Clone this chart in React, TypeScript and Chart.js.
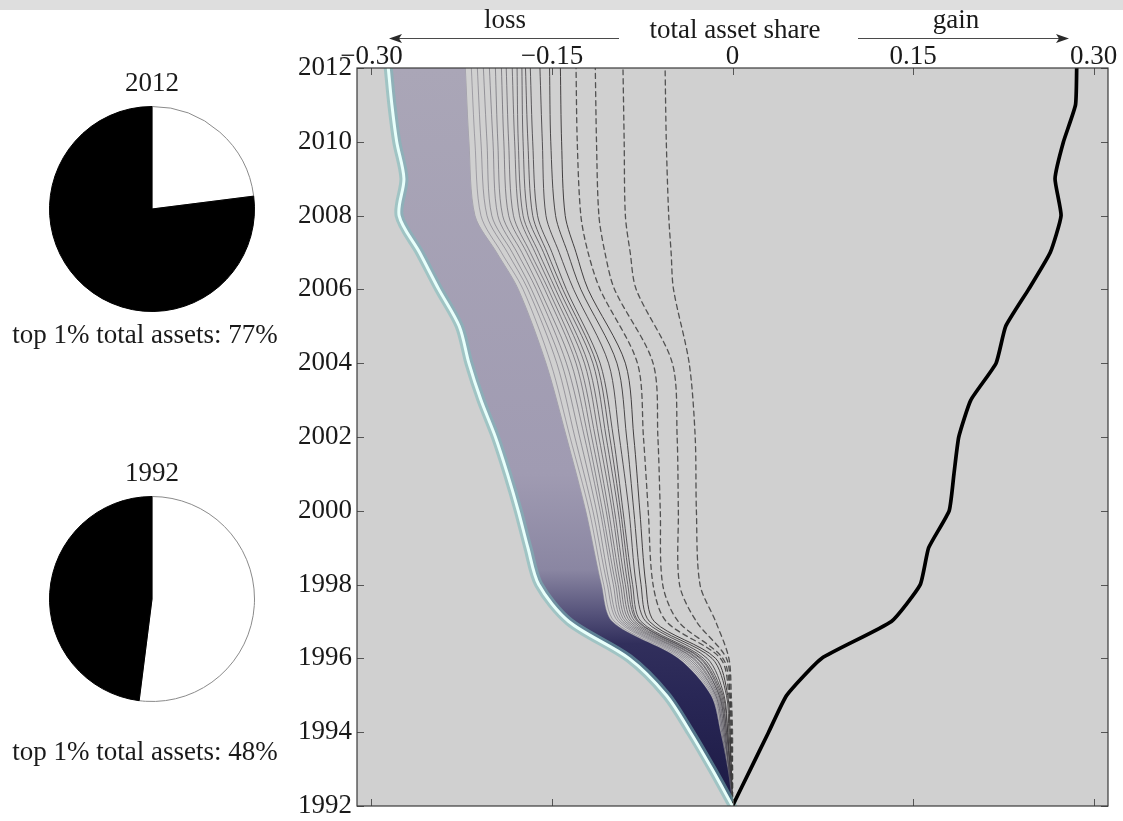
import React, { useEffect, useRef } from 'react';
import { Chart, registerables } from 'chart.js';

Chart.register(...registerables);

const FONT = '"Liberation Serif", "Times New Roman", serif';

// ---------- data ----------
const YEARS = [1992, 1993, 1994, 1995, 1996, 1997, 1998, 1999, 2000, 2001, 2002, 2003, 2004, 2005, 2006, 2007, 2008, 2009, 2010, 2011, 2012];
const GAIN = [0, 0.015, 0.030, 0.045, 0.074, 0.132, 0.156, 0.163, 0.180, 0.184, 0.188, 0.198, 0.219, 0.227, 0.246, 0.264, 0.273, 0.268, 0.275, 0.285, 0.286];
const LOSS_EDGE = [0, -0.017, -0.035, -0.055, -0.086, -0.136, -0.161, -0.170, -0.178, -0.187, -0.197, -0.209, -0.219, -0.227, -0.244, -0.260, -0.277, -0.273, -0.279, -0.283, -0.286];

const BUNDLE_YEARS = [1992, 1993, 1994, 1995, 1996, 1997, 1998, 2000, 2002, 2004, 2006, 2007, 2008, 2010, 2012];
const SOLID_1 = [0, -0.004, -0.010, -0.018, -0.045, -0.100, -0.109, -0.122, -0.138, -0.155, -0.178, -0.196, -0.214, -0.219, -0.222];
const SOLID_2 = [0, -0.004, -0.010, -0.017, -0.043, -0.098, -0.107, -0.119, -0.135, -0.151, -0.174, -0.192, -0.209, -0.214, -0.217];
const SOLID_3 = [0, -0.004, -0.009, -0.016, -0.041, -0.095, -0.104, -0.116, -0.131, -0.146, -0.170, -0.187, -0.204, -0.209, -0.212];
const SOLID_4 = [0, -0.004, -0.009, -0.015, -0.039, -0.093, -0.102, -0.113, -0.127, -0.142, -0.167, -0.183, -0.200, -0.204, -0.207];
const SOLID_5 = [0, -0.003, -0.008, -0.014, -0.037, -0.091, -0.099, -0.110, -0.123, -0.138, -0.163, -0.179, -0.195, -0.199, -0.202];
const SOLID_6 = [0, -0.003, -0.008, -0.014, -0.035, -0.089, -0.097, -0.108, -0.120, -0.134, -0.160, -0.175, -0.191, -0.195, -0.197];
const SOLID_7 = [0, -0.003, -0.007, -0.013, -0.033, -0.087, -0.095, -0.105, -0.117, -0.130, -0.156, -0.171, -0.186, -0.190, -0.192];
const SOLID_8 = [0, -0.003, -0.007, -0.012, -0.032, -0.085, -0.093, -0.103, -0.114, -0.127, -0.153, -0.168, -0.182, -0.186, -0.188];
const SOLID_9 = [0, -0.003, -0.006, -0.011, -0.030, -0.083, -0.091, -0.100, -0.111, -0.123, -0.150, -0.164, -0.177, -0.181, -0.183];
const SOLID_10 = [0, -0.003, -0.006, -0.011, -0.029, -0.081, -0.089, -0.098, -0.108, -0.120, -0.147, -0.161, -0.174, -0.178, -0.179];
const SOLID_11 = [0, -0.002, -0.005, -0.010, -0.027, -0.079, -0.087, -0.095, -0.105, -0.116, -0.144, -0.157, -0.170, -0.174, -0.175];
const SOLID_12 = [0, -0.002, -0.005, -0.009, -0.026, -0.078, -0.085, -0.093, -0.102, -0.113, -0.141, -0.154, -0.166, -0.170, -0.172];
const SOLID_13 = [0, -0.002, -0.004, -0.008, -0.024, -0.076, -0.083, -0.091, -0.099, -0.110, -0.138, -0.150, -0.162, -0.166, -0.168];
const SOLID_14 = [0, -0.002, -0.004, -0.007, -0.021, -0.072, -0.080, -0.086, -0.094, -0.103, -0.132, -0.144, -0.155, -0.158, -0.160];
const SOLID_15 = [0, -0.001, -0.003, -0.005, -0.017, -0.069, -0.076, -0.082, -0.088, -0.096, -0.126, -0.137, -0.147, -0.151, -0.152];
const SOLID_16 = [0, -0.001, -0.002, -0.004, -0.014, -0.065, -0.072, -0.077, -0.082, -0.089, -0.120, -0.130, -0.139, -0.142, -0.143];

const DASHED_1 = [0, -0.001, -0.002, -0.003, -0.010, -0.055, -0.066, -0.070, -0.074, -0.079, -0.110, -0.120, -0.126, -0.129, -0.130];
const DASHED_2 = [0, -0.001, -0.001, -0.002, -0.008, -0.045, -0.058, -0.060, -0.062, -0.066, -0.098, -0.106, -0.111, -0.113, -0.114];
const DASHED_3 = [0, 0, -0.001, -0.002, -0.005, -0.030, -0.044, -0.045, -0.046, -0.050, -0.080, -0.085, -0.089, -0.090, -0.091];
const DASHED_4 = [0, 0, 0, -0.001, -0.003, -0.014, -0.027, -0.030, -0.031, -0.036, -0.049, -0.051, -0.053, -0.055, -0.056];

const X_TICKS = [-0.3, -0.15, 0, 0.15, 0.3];
const X_TICK_LABELS = ['\u22120.30', '\u22120.15', '0', '0.15', '0.30'];
const Y_TICKS = [1992, 1994, 1996, 1998, 2000, 2002, 2004, 2006, 2008, 2010, 2012];

const PIE_LABELS = ['rest', 'top 1%'];
const PIE_2012 = [23, 77];
const PIE_1992 = [52, 48];

const SOLIDS = [SOLID_1, SOLID_2, SOLID_3, SOLID_4, SOLID_5, SOLID_6, SOLID_7, SOLID_8, SOLID_9, SOLID_10, SOLID_11, SOLID_12, SOLID_13, SOLID_14, SOLID_15, SOLID_16];
const DASHEDS = [DASHED_1, DASHED_2, DASHED_3, DASHED_4];

const pts = (xs: number[], ys: number[]) => xs.map((x, i) => ({ x, y: ys[i] }));

const decor = {
  id: 'decor',
  beforeDraw(chart: any) {
    const { ctx, chartArea: a } = chart;
    ctx.save();
    ctx.fillStyle = '#d0d0d0';
    ctx.fillRect(a.left, a.top, a.right - a.left, a.bottom - a.top);
    ctx.restore();
  },
  afterDraw(chart: any) {
    const { ctx, chartArea: a, scales } = chart;
    ctx.save();
    ctx.strokeStyle = '#555';
    ctx.lineWidth = 1;
    ctx.beginPath();
    X_TICKS.forEach((v) => {
      const px = Math.round(scales.x.getPixelForValue(v)) + 0.5;
      ctx.moveTo(px, a.top); ctx.lineTo(px, a.top + 7);
      ctx.moveTo(px, a.bottom); ctx.lineTo(px, a.bottom - 7);
    });
    Y_TICKS.forEach((v) => {
      const py = Math.round(scales.y.getPixelForValue(v)) + 0.5;
      ctx.moveTo(a.left, py); ctx.lineTo(a.left + 7, py);
      ctx.moveTo(a.right, py); ctx.lineTo(a.right - 7, py);
    });
    ctx.stroke();
    ctx.strokeStyle = '#3a3a3a';
    ctx.lineWidth = 1.2;
    ctx.strokeRect(a.left, a.top, a.right - a.left, a.bottom - a.top);

    ctx.fillStyle = '#1a1a1a';
    ctx.font = `27px ${FONT}`;
    ctx.textAlign = 'center';
    ctx.textBaseline = 'middle';
    ctx.fillText('loss', 505, 21);
    ctx.fillText('gain', 956, 21);
    ctx.fillText('total asset share', 735, 31);

    ctx.strokeStyle = '#4a4a4a';
    ctx.fillStyle = '#2a2a2a';
    ctx.lineWidth = 1.2;
    const ay = 38.5;
    ctx.beginPath();
    ctx.moveTo(619, ay); ctx.lineTo(398, ay);
    ctx.moveTo(858, ay); ctx.lineTo(1060, ay);
    ctx.stroke();
    ctx.beginPath();
    ctx.moveTo(389, ay); ctx.lineTo(402, ay - 4.5); ctx.lineTo(399, ay); ctx.lineTo(402, ay + 4.5); ctx.closePath();
    ctx.fill();
    ctx.beginPath();
    ctx.moveTo(1069, ay); ctx.lineTo(1056, ay - 4.5); ctx.lineTo(1059, ay); ctx.lineTo(1056, ay + 4.5); ctx.closePath();
    ctx.fill();
    ctx.restore();
  },
};

function MainChart() {
  const ref = useRef<HTMLCanvasElement>(null);
  useEffect(() => {
    const canvas = ref.current!;
    const fillGradient = (c: any) => {
      const chart = c.chart;
      const y = chart.scales && chart.scales.y;
      if (!chart.chartArea || !y) return 'rgba(150,145,170,1)';
      const g = chart.ctx.createLinearGradient(0, y.getPixelForValue(1992), 0, y.getPixelForValue(2012));
      g.addColorStop(0, '#1c1a44');
      g.addColorStop(0.15, '#292756');
      g.addColorStop(0.22, '#312f5c');
      g.addColorStop(0.26, '#55527a');
      g.addColorStop(0.32, '#8a86a2');
      g.addColorStop(0.45, '#a09bb2');
      g.addColorStop(1, '#aaa6b7');
      return g;
    };
    const n = SOLIDS.length;

    const datasets: any[] = [
      {
        label: 'edge glow',
        data: pts(LOSS_EDGE, YEARS),
        borderColor: 'rgba(120,185,185,0.55)',
        borderWidth: 9,
        backgroundColor: fillGradient,
        fill: 2,
        order: 1,
      },
      {
        label: 'loss edge',
        data: pts(LOSS_EDGE, YEARS),
        borderColor: '#e8fffb',
        borderWidth: 3,
        fill: false,
        order: 0,
      },
      ...SOLIDS.map((s, i) => ({
        label: `solid ${i + 1}`,
        data: pts(s, BUNDLE_YEARS),
        borderColor: `rgba(${95 - i * 3},${92 - i * 3},${108 - i * 4},${(0.4 + (0.5 * i) / (n - 1)).toFixed(2)})`,
        borderWidth: 1,
        fill: false,
        order: 5,
      })),
      ...DASHEDS.map((s, i) => ({
        label: `dashed ${i + 1}`,
        data: pts(s, BUNDLE_YEARS),
        borderColor: 'rgba(60,60,60,0.85)',
        borderWidth: 1.3,
        borderDash: [5, 4],
        fill: false,
        order: 4,
      })),
      {
        label: 'gain',
        data: pts(GAIN, YEARS),
        borderColor: '#000000',
        borderWidth: 3.7,
        fill: false,
        order: 0,
        tension: 0.15,
      },
    ];

    const chart = new Chart(canvas, {
      type: 'line',
      data: { datasets },
      plugins: [decor],
      options: {
        responsive: false,
        animation: false,
        events: [],
        indexAxis: 'y',
        layout: { padding: { left: 297, right: 15, top: 38, bottom: 15 } },
        elements: {
          point: { radius: 0 },
          line: { tension: 0.3, borderCapStyle: 'round', borderJoinStyle: 'round' },
        },
        plugins: {
          legend: { display: false },
          tooltip: { enabled: false },
          filler: { propagate: false },
        },
        scales: {
          x: {
            type: 'linear',
            position: 'top',
            min: -0.312,
            max: 0.312,
            grid: { display: false, drawTicks: false },
            border: { display: false },
            afterBuildTicks: (s: any) => { s.ticks = X_TICKS.map((v) => ({ value: v })); },
            afterFit: (s: any) => { s.height = 30; s.paddingLeft = 0; s.paddingRight = 0; },
            ticks: {
              padding: -5,
              maxRotation: 0,
              autoSkip: false,
              color: '#1a1a1a',
              font: { family: FONT, size: 27 },
              callback: (v: any) => {
                const i = X_TICKS.findIndex((t) => Math.abs(t - Number(v)) < 1e-9);
                return i >= 0 ? X_TICK_LABELS[i] : '';
              },
            },
          },
          y: {
            type: 'linear',
            position: 'left',
            min: 1992,
            max: 2012,
            grid: { display: false, drawTicks: false },
            border: { display: false },
            afterBuildTicks: (s: any) => { s.ticks = Y_TICKS.map((v) => ({ value: v })); },
            afterFit: (s: any) => { s.width = 60; s.paddingTop = 0; s.paddingBottom = 0; },
            ticks: {
              padding: 5,
              autoSkip: false,
              color: '#1a1a1a',
              font: { family: FONT, size: 27 },
              callback: (v: any) => String(v),
            },
          },
        },
      } as any,
    });
    return () => chart.destroy();
  }, []);
  return <canvas ref={ref} width={1123} height={821} style={{ position: 'absolute', left: 0, top: 0 }} />;
}

function PieChart({ values, left, top }: { values: number[]; left: number; top: number }) {
  const ref = useRef<HTMLCanvasElement>(null);
  useEffect(() => {
    const chart = new Chart(ref.current!, {
      type: 'pie',
      data: {
        labels: PIE_LABELS,
        datasets: [{
          data: values,
          backgroundColor: ['#ffffff', '#000000'],
          borderColor: ['#8a8a8a', '#000000'],
          borderWidth: 1,
        }],
      },
      options: {
        responsive: false,
        animation: false,
        events: [],
        layout: { padding: 1 },
        plugins: { legend: { display: false }, tooltip: { enabled: false } },
      } as any,
    });
    return () => chart.destroy();
  }, [values]);
  return <canvas ref={ref} width={208} height={208} style={{ position: 'absolute', left, top }} />;
}

const textStyle: React.CSSProperties = {
  position: 'absolute',
  fontFamily: FONT,
  fontSize: 27,
  lineHeight: '27px',
  color: '#1a1a1a',
  textAlign: 'center',
  whiteSpace: 'nowrap',
};

export default function App() {
  return (
    <div style={{ position: 'absolute', left: 0, top: 0, width: 1123, height: 821, background: '#ffffff', overflow: 'hidden' }}>
      <div style={{ position: 'absolute', left: 0, top: 0, width: 1123, height: 10, background: '#dedede' }} />
      <MainChart />
      <div style={{ ...textStyle, left: 52, width: 200, top: 69 }}>2012</div>
      <PieChart values={PIE_2012} left={48} top={105} />
      <div style={{ ...textStyle, left: 0, width: 290, top: 321 }}>top 1% total assets: 77%</div>
      <div style={{ ...textStyle, left: 52, width: 200, top: 459 }}>1992</div>
      <PieChart values={PIE_1992} left={48} top={495} />
      <div style={{ ...textStyle, left: 0, width: 290, top: 738 }}>top 1% total assets: 48%</div>
    </div>
  );
}
